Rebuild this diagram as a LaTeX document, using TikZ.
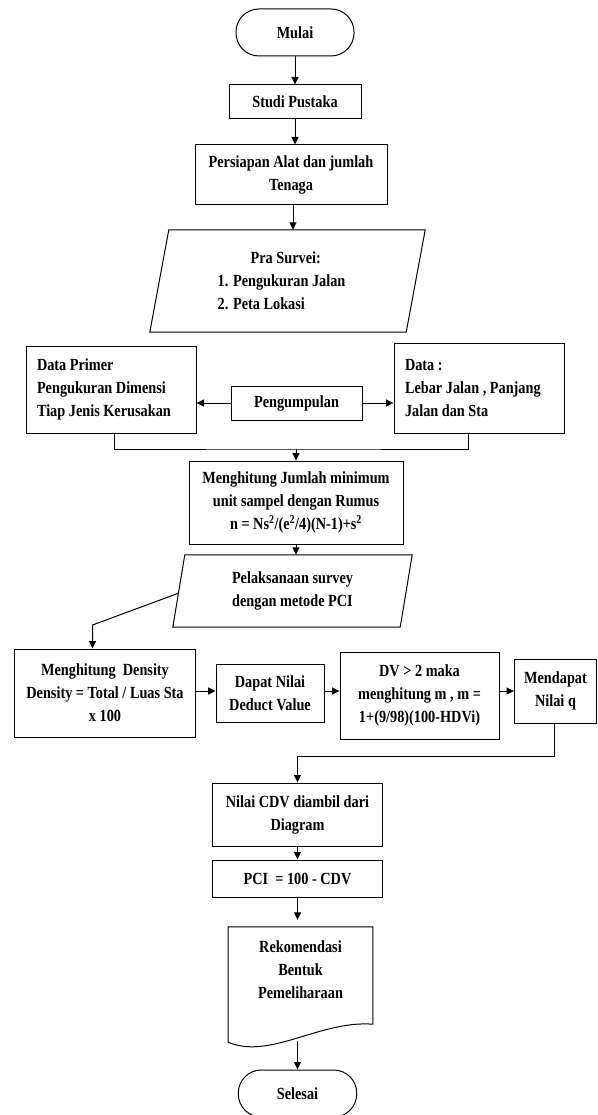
\documentclass[tikz,border=0pt]{standalone}
\usepackage{fontspec}
\setmainfont{Liberation Serif}[FakeStretch=0.84]
\usetikzlibrary{arrows.meta,calc}
\begin{document}
\begin{tikzpicture}[x=1pt,y=-1pt,
  font=\fontsize{17}{23}\selectfont\bfseries,
  box/.style={draw, line width=1pt, rectangle, inner sep=0pt, align=center},
  term/.style={draw, line width=1pt, rectangle, rounded corners=23pt, inner sep=0pt, align=center},
  plain/.style={inner sep=0pt, align=center},
  arr/.style={-{Triangle[length=7.5pt,width=7pt]}, line width=1pt},
  ln/.style={line width=1pt}]
\useasboundingbox (0,0) rectangle (597,1115);

\node[term, minimum width=118pt, minimum height=47pt] (mulai) at (295,32.5) {Mulai};
\node[box, minimum width=132pt, minimum height=34pt] (studi) at (295,102) {Studi Pustaka};
\node[box, minimum width=192pt, minimum height=60pt] (pers) at (291,175) {Persiapan Alat dan jumlah\\Tenaga};
\node[plain, align=flush left, minimum width=256pt, minimum height=102pt] (pra) at (281.5,281)
  {\hspace*{33pt}Pra Survei:\\1. Pengukuran Jalan\\2. Peta Lokasi};
\draw[ln] ([xshift=15.5pt]pra.north west) -- ([xshift=15.5pt]pra.north east)
  -- ([xshift=-3.5pt]pra.south east) -- ([xshift=-3.5pt]pra.south west) -- cycle;

\node[box, minimum width=170pt, minimum height=87pt, text width=148pt, align=flush left] (dp) at (111,389.5)
  {Data Primer\\Pengukuran Dimensi\\Tiap Jenis Kerusakan};
\node[box, minimum width=131pt, minimum height=34pt] (peng) at (296.5,403) {Pengumpulan};
\node[box, minimum width=170pt, minimum height=90pt, text width=148pt, align=flush left] (dr) at (479,388)
  {Data :\\Lebar Jalan , Panjang\\Jalan dan Sta};

\node[box, minimum width=214pt, minimum height=83pt] (mh) at (296,502.5)
  {Menghitung Jumlah minimum\\unit sampel dengan Rumus\\n = Ns\textsuperscript{2}/(e\textsuperscript{2}/4)(N-1)+s\textsuperscript{2}};
\node[plain, minimum width=227pt, minimum height=72pt] (pel) at (292.5,591)
  {Pelaksanaan survey\\dengan metode PCI};
\draw[ln] ([xshift=6pt]pel.north west) -- ([xshift=6pt]pel.north east)
  -- ([xshift=-6pt]pel.south east) -- ([xshift=-6pt]pel.south west) -- cycle;

\node[box, minimum width=181.5pt, minimum height=88pt] (dens) at (105,693)
  {Menghitung\ \ Density\\Density = Total / Luas Sta\\x 100};
\node[box, minimum width=108pt, minimum height=58pt] (dapat) at (270,693)
  {Dapat Nilai\\Deduct Value};
\node[box, minimum width=159pt, minimum height=87pt] (dv) at (419.5,695.5)
  {DV > 2 maka\\menghitung m , m =\\1+(9/98)(100-HDVi)};
\node[box, minimum width=82pt, minimum height=64pt] (mend) at (555.5,691)
  {Mendapat\\Nilai q};

\node[box, minimum width=169.5pt, minimum height=63pt] (cdv) at (297.5,814.5)
  {Nilai CDV diambil dari\\Diagram};
\node[box, minimum width=169.5pt, minimum height=37pt] (pci) at (297.5,878.5)
  {PCI\ \ = 100 - CDV};
\node[plain, minimum width=144.4pt, minimum height=86pt] (rek) at (300.5,970)
  {Rekomendasi\\Bentuk\\Pemeliharaan};
\draw[ln] (rek.north west) -- (rek.north east) -- ([yshift=-11pt]rek.south east)
  .. controls (320,1020) and (270,1060) .. ([yshift=-29pt]rek.south west) -- cycle;
\node[term, minimum width=118.4pt, minimum height=47pt] (sel) at (297.5,1093.5) {Selesai};

% connectors
\draw[arr] (mulai) -- (studi);
\draw[arr] (studi.south) -- (studi.south |- pers.north);
\draw[arr] ([xshift=2pt]pers.south) -- ([xshift=2pt]pers.south |- pra.north);
\draw[arr] (peng.west) -- (peng.west -| dp.east);
\draw[arr] (peng.east) -- (peng.east -| dr.west);
\coordinate (mj) at (296,449);
\draw[ln] ([xshift=3pt]dp.south) |- (mj) -| ([xshift=-11pt]dr.south);
\draw[arr] (mj) -- (mh.north);
\draw[arr] (mh.south) -- (mh.south |- pel.north);
\coordinate (pelL) at (179,593);
\coordinate (pk) at (92.5,625);
\draw[arr] (pelL) -- (pk) -- (pk |- dens.north);
\draw[arr] (dens.east |- mend) -- (dapat.west |- mend);
\draw[arr] (dapat.east |- mend) -- (dv.west |- mend);
\draw[arr] (dv.east |- mend) -- (mend.west);
\coordinate (mj2) at (297.5,756);
\draw[arr] ([xshift=-1.5pt]mend.south) |- (mj2) -- (cdv.north);
\draw[arr] (cdv) -- (pci);
\draw[arr] (pci.south) -- ([yshift=7pt]pci.south |- rek.north);
\coordinate (rekb) at (297.5,1041);
\draw[arr] (rekb) -- (sel.north);
\end{tikzpicture}
\end{document}
